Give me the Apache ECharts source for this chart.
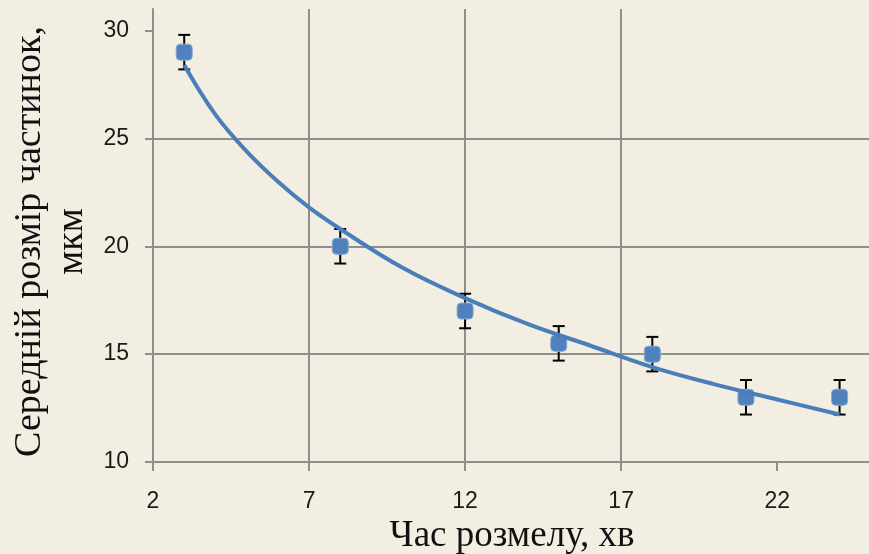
<!DOCTYPE html>
<html>
<head>
<meta charset="utf-8">
<script src="https://cdn.jsdelivr.net/npm/echarts@6/dist/echarts.min.js"></script>
<style>
  html, body { margin: 0; padding: 0; background: #f2efe2; }
  #chart { width: 869px; height: 554px; }
</style>
</head>
<body>
<div id="chart"></div>
<script>
// Milling time, min
const timeMin = [3, 8, 12, 15, 18, 21, 24];
// Mean particle size, µm
const sizeMkm = [29, 20, 17, 15.5, 15, 13, 13];
// Error bar half-width, µm
const errMkm = [0.8, 0.8, 0.8, 0.8, 0.8, 0.8, 0.8];
// Logarithmic trend line, sampled points
const trendX = [3, 4, 5, 6, 7, 8, 10, 12, 14, 16, 18, 20, 22, 24];
const trendY = [28.4, 26.1, 24.4, 23.0, 21.8, 20.8, 19.0, 17.6, 16.4, 15.4, 14.4, 13.6, 12.9, 12.2];
// Axis tick values
const xTicks = [2, 7, 12, 17, 22];
const yTicks = [10, 15, 20, 25, 30];

const gridColor = '#8f8f8f';
const blue = '#4a7ebb';

const points = timeMin.map((t, i) => [t, sizeMkm[i]]);
const errData = timeMin.map((t, i) => [t, sizeMkm[i] - errMkm[i], sizeMkm[i] + errMkm[i]]);
const trend = trendX.map((t, i) => [t, trendY[i]]);

const chart = echarts.init(document.getElementById('chart'), null, { renderer: 'canvas' });
chart.setOption({
  backgroundColor: '#f2efe2',
  animation: false,
  // plot area runs past the right edge of the canvas
  grid: { left: 153, top: 9, right: -33, bottom: 92, outerBoundsMode: 'none', containLabel: false },
  xAxis: {
    type: 'value',
    min: 2, max: 26, interval: 5,
    name: 'Час розмелу, хв',
    nameLocation: 'middle',
    nameGap: 56,
    nameTextStyle: { fontFamily: 'Liberation Serif', fontSize: 37, color: '#111', padding: [0, 31, 0, 0] },
    axisLine: { show: true, lineStyle: { color: gridColor, width: 2 } },
    axisTick: { show: true, length: 9, customValues: xTicks, lineStyle: { color: gridColor, width: 2 } },
    axisLabel: { customValues: xTicks, margin: 28, fontFamily: 'Liberation Sans', fontSize: 23, color: '#1a1a1a' },
    splitLine: { show: true, showMaxLine: false, lineStyle: { color: gridColor, width: 2 } }
  },
  yAxis: {
    type: 'value',
    min: 10, max: 31, interval: 5,
    name: 'Середній розмір частинок,\nмкм',
    nameLocation: 'middle',
    nameRotate: 90,
    nameGap: 58,
    nameTextStyle: { fontFamily: 'Liberation Serif', fontSize: 38, lineHeight: 42, color: '#111', align: 'center', padding: [0, 12, 0, 0] },
    axisLine: { show: true, lineStyle: { color: gridColor, width: 2 } },
    axisTick: { show: true, length: 8, customValues: yTicks, lineStyle: { color: gridColor, width: 2 } },
    axisLabel: { customValues: yTicks, margin: 24, padding: [8, 0, 0, 0], fontFamily: 'Liberation Sans', fontSize: 23, color: '#1a1a1a' },
    splitLine: { show: true, showMaxLine: false, lineStyle: { color: gridColor, width: 2 } }
  },
  series: [
    {
      type: 'custom',
      name: 'error',
      z: 2,
      data: errData,
      renderItem: function (params, api) {
        const x = api.value(0);
        const lo = api.coord([x, api.value(1)]);
        const hi = api.coord([x, api.value(2)]);
        const cap = 6;
        const style = { stroke: '#000', lineWidth: 2 };
        return {
          type: 'group',
          children: [
            { type: 'line', shape: { x1: lo[0], y1: lo[1], x2: hi[0], y2: hi[1] }, style },
            { type: 'line', shape: { x1: hi[0] - cap, y1: hi[1], x2: hi[0] + cap, y2: hi[1] }, style },
            { type: 'line', shape: { x1: lo[0] - cap, y1: lo[1], x2: lo[0] + cap, y2: lo[1] }, style }
          ]
        };
      }
    },
    {
      type: 'scatter',
      name: 'size',
      z: 3,
      data: points,
      symbol: 'roundRect',
      symbolSize: 16,
      itemStyle: { color: '#4f81bd', borderColor: '#86a8d4', borderWidth: 1, opacity: 1 }
    },
    {
      type: 'line',
      name: 'trend',
      z: 4,
      data: trend,
      smooth: 0.4,
      showSymbol: false,
      symbol: 'none',
      lineStyle: { color: blue, width: 4 }
    }
  ]
});
</script>
</body>
</html>
